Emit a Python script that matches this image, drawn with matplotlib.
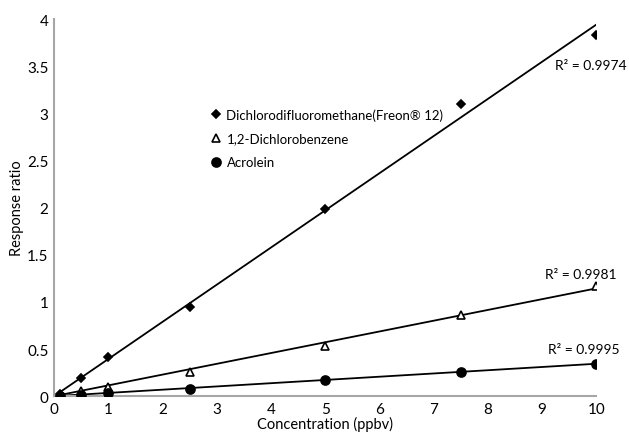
import numpy as np
import matplotlib
matplotlib.use('Agg')
import matplotlib.pyplot as plt

plt.rcParams['font.family'] = ['Lato', 'DejaVu Sans']

conc = np.array([0.1, 0.5, 1, 2.5, 5, 7.5, 10])
freon = np.array([0.02, 0.19, 0.41, 0.95, 1.99, 3.10, 3.83])
dcb = np.array([0.01, 0.05, 0.10, 0.26, 0.53, 0.86, 1.17])
acrolein = np.array([0.005, 0.015, 0.03, 0.08, 0.17, 0.26, 0.345])

labels = ['Dichlorodifluoromethane(Freon\u00ae 12)', '1,2-Dichlorobenzene', 'Acrolein']
r2_labels = ['R\u00b2 = 0.9974', 'R\u00b2 = 0.9981', 'R\u00b2 = 0.9995']


def fit_origin(x, y):
    # trendline forced through zero
    return np.sum(x * y) / np.sum(x * x)


fig = plt.figure(figsize=(6.29, 4.35), dpi=100)
ax = fig.add_axes([0.086, 0.087, 0.862, 0.867])

series = [(freon, 'D', 4.0, 'black'), (dcb, '^', 5.5, 'white'), (acrolein, 'o', 6.5, 'black')]
for (y, mk, ms, fc), lab in zip(series, labels):
    ax.plot(conc, y, linestyle='none', marker=mk, markersize=ms,
            markerfacecolor=fc, markeredgecolor='black', markeredgewidth=1.2,
            label=lab, zorder=3)
    k = fit_origin(conc, y)
    xs = np.array([conc.min(), conc.max()])
    ax.plot(xs, k * xs, color='black', linewidth=1.3, zorder=2)

ax.text(9.24, 3.51, r2_labels[0], fontsize=10, va='center')
ax.text(9.06, 1.295, r2_labels[1], fontsize=10, va='center')
ax.text(9.11, 0.50, r2_labels[2], fontsize=10, va='center')

ax.set_xlim(0, 10)
ax.set_ylim(0, 4)
ax.set_xticks(np.arange(0, 11, 1))
ax.set_yticks(np.arange(0, 4.01, 0.5))
ax.set_yticklabels(['0', '0.5', '1', '1.5', '2', '2.5', '3', '3.5', '4'])
ax.tick_params(length=0, labelsize=11, pad=4)

for s in ['top', 'right']:
    ax.spines[s].set_visible(False)
for s in ['left', 'bottom']:
    ax.spines[s].set_color('#a6a6a6')
    ax.spines[s].set_linewidth(1.5)

ax.set_xlabel('Concentration (ppbv)', fontsize=10.5, labelpad=0)
ax.set_ylabel('Response ratio', fontsize=10.5, labelpad=2)

ax.legend(loc='upper left', bbox_to_anchor=(0.262, 0.795), frameon=False,
          fontsize=9.5, handletextpad=0.2, labelspacing=0.9, handlelength=1.2)

fig.savefig('out.png', dpi=100)
